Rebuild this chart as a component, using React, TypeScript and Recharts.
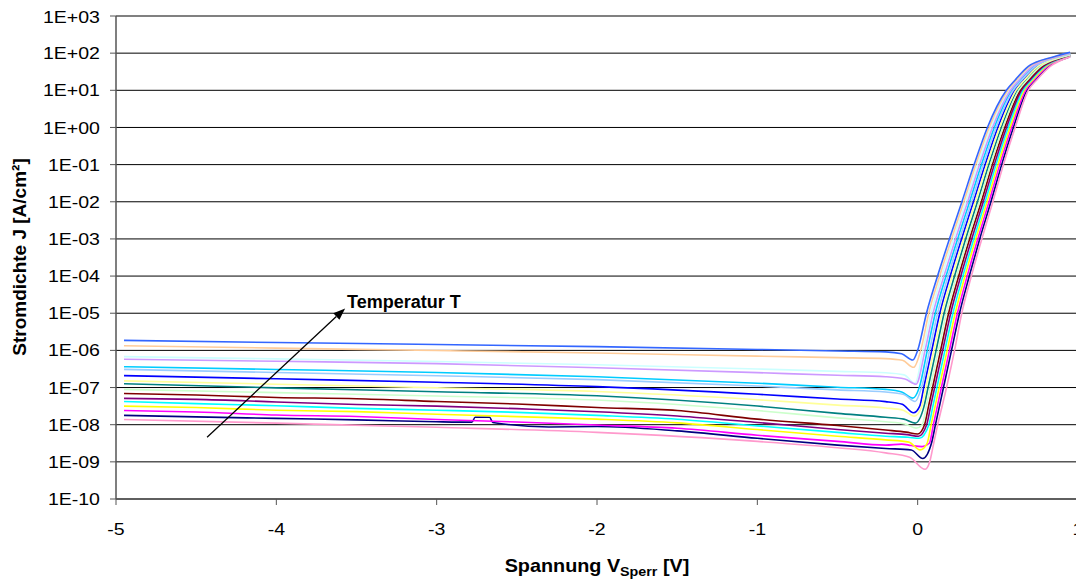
import React from "react"
import { LineChart, Line, XAxis, YAxis, CartesianGrid, ReferenceLine } from "recharts"

// axes
const X_TICKS = [-5, -4, -3, -2, -1, 0, 1]
const Y_TICKS = [1e-10, 1e-9, 1e-8, 1e-7, 1e-6, 1e-5, 1e-4, 1e-3, 1e-2, 1e-1, 1, 10, 100, 1000]

// measured curves: [Spannung in V, Stromdichte in A/cm²]
const curveNavy = [
  [-4.95, 1.78e-8], [-4.5, 1.62e-8], [-4, 1.48e-8], [-3.5, 1.35e-8], [-3, 1.2e-8], [-2.78, 1.17e-8],
  [-2.76, 1.58e-8], [-2.67, 1.58e-8], [-2.65, 1.15e-8], [-2.3, 8.7e-9], [-2, 8.9e-9], [-1.5, 6.8e-9],
  [-1, 4.3e-9], [-0.5, 2.82e-9], [-0.2, 2.29e-9], [-0.04, 2.09e-9], [0.032, 1.23e-9], [0.086, 3.16e-9],
  [0.111, 1e-8], [0.136, 3.16e-8], [0.161, 1e-7], [0.211, 1e-6], [0.261, 1e-5], [0.322, 1e-4],
  [0.387, 1e-3], [0.457, 1e-2], [0.524, 0.1], [0.597, 1], [0.681, 10], [0.735, 19], [0.818, 44],
  [0.944, 79], [0.951, 81.3],
]
const curveMagenta = [
  [-4.95, 2.4e-8], [-4.5, 2.2e-8], [-4, 1.82e-8], [-3.5, 1.66e-8], [-3, 1.38e-8], [-2.5, 1.18e-8],
  [-2, 9.8e-9], [-1.5, 8.0e-9], [-1, 5.2e-9], [-0.5, 3.55e-9], [-0.2, 2.82e-9], [-0.1, 3.0e-9],
  [-0.04, 2.75e-9], [0.028, 2.57e-9], [0.073, 3.16e-9], [0.098, 1e-8], [0.123, 3.16e-8], [0.148, 1e-7],
  [0.198, 1e-6], [0.248, 1e-5], [0.309, 1e-4], [0.375, 1e-3], [0.445, 1e-2], [0.512, 0.1], [0.586, 1],
  [0.673, 10], [0.726, 19], [0.81, 44], [0.938, 79], [0.951, 82.2],
]
const curveYellow = [
  [-4.95, 3.16e-8], [-4.5, 2.9e-8], [-4, 2.45e-8], [-3.5, 2.25e-8], [-3, 1.91e-8], [-2.5, 1.65e-8],
  [-2, 1.41e-8], [-1.5, 1.12e-8], [-1, 7.4e-9], [-0.5, 4.9e-9], [-0.2, 3.9e-9], [-0.055, 3.4e-9],
  [0.015, 2.1e-9], [0.059, 3.16e-9], [0.084, 1e-8], [0.109, 3.16e-8], [0.134, 1e-7], [0.184, 1e-6],
  [0.234, 1e-5], [0.295, 1e-4], [0.362, 1e-3], [0.433, 1e-2], [0.501, 0.1], [0.576, 1], [0.664, 10],
  [0.718, 19], [0.801, 44], [0.931, 79], [0.951, 83.2],
]
const curveCyan = [
  [-4.95, 4.2e-8], [-4.5, 3.7e-8], [-4, 3.24e-8], [-3.5, 2.75e-8], [-3, 2.45e-8], [-2.5, 2.15e-8],
  [-2, 1.78e-8], [-1.5, 1.4e-8], [-1, 9.3e-9], [-0.5, 6.2e-9], [-0.2, 4.9e-9], [-0.06, 4.6e-9],
  [0.01, 4.3e-9], [0.07, 1e-8], [0.095, 3.16e-8], [0.12, 1e-7], [0.17, 1e-6], [0.22, 1e-5],
  [0.282, 1e-4], [0.35, 1e-3], [0.421, 1e-2], [0.489, 0.1], [0.565, 1], [0.656, 10], [0.709, 19],
  [0.793, 44], [0.925, 79], [0.951, 85.1],
]
const curvePurple = [
  [-4.95, 5.1e-8], [-4.5, 4.8e-8], [-4, 4.1e-8], [-3.5, 3.5e-8], [-3, 3.16e-8], [-2.5, 2.7e-8],
  [-2, 2.24e-8], [-1.5, 1.72e-8], [-1, 1.15e-8], [-0.5, 7.4e-9], [-0.2, 5.9e-9], [-0.065, 5.4e-9],
  [0.005, 4.9e-9], [0.056, 1e-8], [0.081, 3.16e-8], [0.106, 1e-7], [0.156, 1e-6], [0.206, 1e-5],
  [0.269, 1e-4], [0.337, 1e-3], [0.409, 1e-2], [0.478, 0.1], [0.554, 1], [0.647, 10], [0.701, 19],
  [0.784, 44], [0.918, 79], [0.951, 87.1],
]
const curveDarkRed = [
  [-4.95, 6.9e-8], [-4.5, 6.3e-8], [-4, 5.4e-8], [-3.5, 5.0e-8], [-3, 4.2e-8], [-2.5, 3.6e-8],
  [-2, 2.9e-8], [-1.5, 2.4e-8], [-1, 1.41e-8], [-0.5, 9.5e-9], [-0.2, 7.2e-9], [-0.07, 6.3e-9],
  [0, 5.6e-9], [0.043, 1e-8], [0.068, 3.16e-8], [0.093, 1e-7], [0.143, 1e-6], [0.193, 1e-5],
  [0.256, 1e-4], [0.324, 1e-3], [0.397, 1e-2], [0.466, 0.1], [0.543, 1], [0.639, 10], [0.692, 19],
  [0.776, 44], [0.911, 79], [0.951, 88.1],
]
const curveTeal = [
  [-4.95, 1.26e-7], [-4, 9.8e-8], [-3, 7.7e-8], [-2, 6.0e-8], [-1, 3.17e-8], [-0.5, 2.02e-8],
  [-0.2, 1.58e-8], [-0.086, 1.41e-8], [-0.016, 1.1e-8], [0.04, 3.16e-8], [0.065, 1e-7], [0.115, 1e-6],
  [0.165, 1e-5], [0.23, 1e-4], [0.299, 1e-3], [0.373, 1e-2], [0.444, 0.1], [0.522, 1], [0.622, 10],
  [0.676, 19], [0.759, 44], [0.898, 79], [0.951, 91.2],
]
const curveBlue = [
  [-4.95, 2.09e-7], [-4, 1.72e-7], [-3, 1.39e-7], [-2, 1.06e-7], [-1, 6.6e-8], [-0.5, 4.9e-8],
  [-0.2, 4.17e-8], [-0.096, 3.55e-8], [-0.026, 2.09e-8], [0.013, 3.16e-8], [0.038, 1e-7], [0.088, 1e-6],
  [0.138, 1e-5], [0.203, 1e-4], [0.274, 1e-3], [0.348, 1e-2], [0.421, 0.1], [0.5, 1], [0.604, 10],
  [0.659, 19], [0.741, 44], [0.885, 79], [0.951, 94.4],
]
const curveSkyBlue = [
  [-4.95, 3.63e-7], [-4, 3.07e-7], [-3, 2.54e-7], [-2, 1.96e-7], [-1, 1.31e-7], [-0.5, 1.02e-7],
  [-0.2, 8.9e-8], [-0.1, 7.6e-8], [-0.03, 5.2e-8], [0.01, 1e-7], [0.06, 1e-6], [0.11, 1e-5],
  [0.177, 1e-4], [0.249, 1e-3], [0.324, 1e-2], [0.398, 0.1], [0.478, 1], [0.587, 10], [0.642, 19],
  [0.724, 44], [0.872, 79], [0.951, 97.7],
]
const curveTurquoise = [
  [-4.95, 6.8e-7], [-4, 5.9e-7], [-3, 5.0e-7], [-2, 4.1e-7], [-1, 3.16e-7], [-0.5, 2.72e-7],
  [-0.2, 2.51e-7], [-0.085, 2.19e-7], [-0.016, 1.32e-7], [0.033, 1e-6], [0.083, 1e-5], [0.15, 1e-4],
  [0.223, 1e-3], [0.3, 1e-2], [0.375, 0.1], [0.457, 1], [0.57, 10], [0.625, 19], [0.707, 44],
  [0.858, 79], [0.951, 101],
]
const curveLightGreen = [
  [-4.95, 8.9e-8], [-4, 7.3e-8], [-3, 5.9e-8], [-2, 4.6e-8], [-1, 2.4e-8], [-0.5, 1.53e-8],
  [-0.2, 1.2e-8], [-0.08, 1.05e-8], [-0.01, 8.1e-9], [0.029, 1e-8], [0.054, 3.16e-8], [0.079, 1e-7],
  [0.129, 1e-6], [0.179, 1e-5], [0.243, 1e-4], [0.312, 1e-3], [0.385, 1e-2], [0.455, 0.1], [0.532, 1],
  [0.63, 10], [0.684, 19], [0.767, 44], [0.905, 79], [0.951, 89.7],
]
const curveLightYellow = [
  [-4.95, 1.51e-7], [-4, 1.23e-7], [-3, 9.9e-8], [-2, 7.8e-8], [-1, 4.7e-8], [-0.5, 3.37e-8],
  [-0.2, 2.82e-8], [-0.09, 2.45e-8], [-0.02, 1.7e-8], [0.026, 3.16e-8], [0.051, 1e-7], [0.101, 1e-6],
  [0.151, 1e-5], [0.216, 1e-4], [0.286, 1e-3], [0.36, 1e-2], [0.432, 0.1], [0.511, 1], [0.613, 10],
  [0.667, 19], [0.75, 44], [0.891, 79], [0.951, 93.3],
]
const curvePaleBlue = [
  [-4.95, 3.09e-7], [-4, 2.54e-7], [-3, 2.07e-7], [-2, 1.63e-7], [-1, 1.1e-7], [-0.5, 8.65e-8],
  [-0.2, 7.6e-8], [-0.086, 6.5e-8], [-0.016, 4.2e-8], [0.024, 1e-7], [0.074, 1e-6], [0.124, 1e-5],
  [0.19, 1e-4], [0.261, 1e-3], [0.336, 1e-2], [0.409, 0.1], [0.489, 1], [0.596, 10], [0.65, 19],
  [0.733, 44], [0.878, 79], [0.951, 95.5],
]
const curveRose = [
  [-4.95, 1.38e-8], [-4, 1.1e-8], [-3, 8.5e-9], [-2, 6.2e-9], [-1, 3.55e-9], [-0.5, 2.4e-9],
  [-0.2, 1.74e-9], [-0.05, 1.32e-9], [0.047, 6.3e-10], [0.075, 1e-9], [0.1, 3.16e-9], [0.125, 1e-8],
  [0.18, 1e-7], [0.23, 1e-6], [0.275, 1e-5], [0.335, 1e-4], [0.4, 1e-3], [0.469, 1e-2], [0.535, 0.1],
  [0.608, 1], [0.69, 10], [0.743, 19], [0.827, 44], [0.951, 79.4],
]
const curveLavender = [
  [-4.95, 5.75e-7], [-4, 5.1e-7], [-3, 4.4e-7], [-2, 3.4e-7], [-1, 2.52e-7], [-0.5, 2.14e-7],
  [-0.2, 1.95e-7], [-0.08, 1.7e-7], [-0.01, 1.23e-7], [0.046, 1e-6], [0.096, 1e-5], [0.164, 1e-4],
  [0.236, 1e-3], [0.312, 1e-2], [0.386, 0.1], [0.467, 1], [0.579, 10], [0.633, 19], [0.716, 44],
  [0.865, 79], [0.951, 100],
]
const curveTan = [
  [-4.95, 1.33e-6], [-4, 1.15e-6], [-3, 9.9e-7], [-2, 8.5e-7], [-1, 7.0e-7], [-0.5, 6.4e-7],
  [-0.2, 6.0e-7], [-0.095, 5.4e-7], [-0.025, 3.5e-7], [0.019, 1e-6], [0.069, 1e-5], [0.137, 1e-4],
  [0.211, 1e-3], [0.288, 1e-2], [0.363, 0.1], [0.446, 1], [0.562, 10], [0.616, 19], [0.699, 44],
  [0.852, 79], [0.951, 102],
]
const curveLightBlue = [
  [-4.95, 1.86e-6], [-4, 1.63e-6], [-3, 1.44e-6], [-2, 1.26e-6], [-1, 1.06e-6], [-0.5, 9.6e-7],
  [-0.2, 9.1e-7], [-0.1, 8.1e-7], [-0.03, 5.5e-7], [0, 1e-6], [0.055, 1e-5], [0.124, 1e-4],
  [0.198, 1e-3], [0.276, 1e-2], [0.352, 0.1], [0.435, 1], [0.553, 10], [0.608, 19], [0.69, 44],
  [0.845, 79], [0.951, 105],
]

// arrow annotation (start, tip) in data units
const ARROW_FROM = { x: -4.432, y: 4.6e-9 }
const ARROW_TO = { x: -3.571, y: 1.35e-5 }

// Excel palette order = drawing order
const SERIES = [
  { name: "navy", color: "#000080", points: curveNavy },
  { name: "magenta", color: "#FF00FF", points: curveMagenta },
  { name: "yellow", color: "#FFFF00", points: curveYellow },
  { name: "cyan", color: "#00FFFF", points: curveCyan },
  { name: "purple", color: "#800080", points: curvePurple },
  { name: "darkred", color: "#800000", points: curveDarkRed },
  { name: "teal", color: "#008080", points: curveTeal },
  { name: "blue", color: "#0000FF", points: curveBlue },
  { name: "skyblue", color: "#00CCFF", points: curveSkyBlue },
  { name: "turquoise", color: "#CCFFFF", points: curveTurquoise },
  { name: "lightgreen", color: "#CCFFCC", points: curveLightGreen },
  { name: "lightyellow", color: "#FFFF99", points: curveLightYellow },
  { name: "paleblue", color: "#99CCFF", points: curvePaleBlue },
  { name: "rose", color: "#FF99CC", points: curveRose },
  { name: "lavender", color: "#CC99FF", points: curveLavender },
  { name: "tan", color: "#FFCC99", points: curveTan },
  { name: "lightblue", color: "#3366FF", points: curveLightBlue },
]

const FONT = "'Liberation Sans', Arial, Helvetica, sans-serif"
const W = 1076
const H = 573

const stretch = (x: number, y: number, k: number) =>
  `translate(${x} ${y}) scale(${k} 1) translate(${-x} ${-y})`

const fmtExp = (v: number) => {
  const e = Math.round(Math.log10(v))
  return `1E${e < 0 ? "-" : "+"}${String(Math.abs(e)).padStart(2, "0")}`
}

const YTick = ({ x, y, payload }: any) => (
  <text x={x} y={y} dy="0.36em" textAnchor="end" fontSize={17} fontFamily={FONT} fill="#000"
    transform={stretch(x, y, 1.15)}>
    {fmtExp(payload.value)}
  </text>
)

const XTick = ({ x, y, payload }: any) => (
  <text x={x} y={y} dy="0.71em" textAnchor="middle" fontSize={17} fontFamily={FONT} fill="#000"
    transform={stretch(x, y, 1.15)}>
    {payload.value}
  </text>
)

const Arrow = ({ x1, y1, x2, y2 }: any) => {
  const a = Math.atan2(y2 - y1, x2 - x1)
  const len = 12
  const w = 4.5
  const bx = x2 - len * Math.cos(a)
  const by = y2 - len * Math.sin(a)
  const px = -Math.sin(a) * w
  const py = Math.cos(a) * w
  return (
    <g>
      <line x1={x1} y1={y1} x2={bx} y2={by} stroke="#000" strokeWidth={1.3} />
      <polygon points={`${x2},${y2} ${bx + px},${by + py} ${bx - px},${by - py}`} fill="#000" />
      <text x={x2 + 2} y={y2} fontSize={18} fontWeight="bold" fontFamily={FONT} fill="#000">
        Temperatur T
      </text>
    </g>
  )
}

export default function App() {
  return (
    <div style={{ position: "relative", width: W, height: H, background: "#fff" }}>
      <LineChart width={W} height={H} margin={{ top: 8, right: 6, bottom: 42, left: 48 }}>
        <CartesianGrid horizontal vertical={false} stroke="#000" strokeWidth={1} />
        <XAxis
          type="number"
          dataKey="x"
          domain={[-5, 1]}
          ticks={X_TICKS}
          height={40}
          tickSize={6}
          tickMargin={18}
          tick={<XTick />}
          axisLine={{ stroke: "#555", strokeWidth: 1.5 }}
          tickLine={{ stroke: "#555" }}
          allowDataOverflow
        />
        <YAxis
          type="number"
          scale="log"
          domain={[1e-10, 1000]}
          ticks={Y_TICKS}
          width={60}
          tickSize={6}
          tickMargin={10}
          tick={<YTick />}
          axisLine={{ stroke: "#555", strokeWidth: 1.5 }}
          tickLine={{ stroke: "#555" }}
          allowDataOverflow
        />
        <ReferenceLine y={1000} stroke="#808080" strokeWidth={1.5} />
        <ReferenceLine x={1} stroke="#808080" strokeWidth={1.5} />
        {SERIES.map((s) => (
          <Line
            key={s.name}
            name={s.name}
            data={s.points.map(([x, y]) => ({ x, y }))}
            dataKey="y"
            type="monotone"
            stroke={s.color}
            strokeWidth={1.6}
            dot={false}
            activeDot={false}
            isAnimationActive={false}
          />
        ))}
        <ReferenceLine segment={[ARROW_FROM, ARROW_TO]} shape={<Arrow />} />
      </LineChart>
      <svg width={W} height={H} style={{ position: "absolute", left: 0, top: 0, pointerEvents: "none" }}>
        <text x={589} y={564} textAnchor="middle" fontSize={18} fontWeight="bold" fontFamily={FONT}
          transform={stretch(589, 564, 1.1)}>
          Spannung V<tspan fontSize={13} dy={4}>Sperr</tspan><tspan dy={-4}> [V]</tspan>
        </text>
        <text x={11} y={249} textAnchor="middle" dominantBaseline="central" fontSize={19} fontWeight="bold"
          fontFamily={FONT} transform="rotate(-90 11 249)">
          Stromdichte J [A/cm²]
        </text>
      </svg>
    </div>
  )
}
